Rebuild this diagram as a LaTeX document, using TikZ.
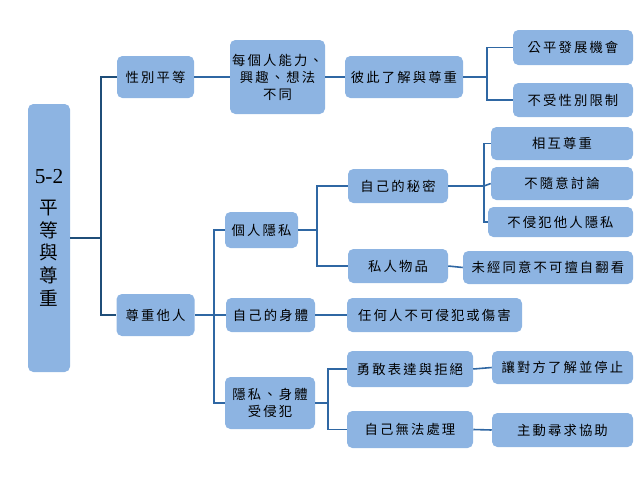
\documentclass[tikz,border=0pt]{standalone}
\usepackage{fontspec}
\setmainfont{Liberation Serif}
\newfontfamily\cjk[LetterSpace=16]{Noto Sans CJK TC}
\newfontfamily\cjkroot{Noto Sans CJK TC}
\definecolor{boxfill}{HTML}{8DB4E2}
\definecolor{lineA}{HTML}{1F4E79}
\definecolor{lineB}{HTML}{2F67A3}
\tikzset{
  bx/.style={draw=none, fill=boxfill, rounded corners=4pt, align=center, inner sep=0pt,
    font=\cjk\fontsize{10}{12.75}\selectfont, text=black},
  lnA/.style={draw=lineA, line width=1.5pt},
  lnB/.style={draw=lineB, line width=1.2pt},
}
\newcommand{\bxat}[6]{%
  \node[bx, minimum width=#4*0.75pt, minimum height=#5*0.75pt] (#1) at (#2,#3) {#6};}
\begin{document}
\begin{tikzpicture}[x=0.75pt,y=-0.75pt]
\useasboundingbox (0,0) rectangle (640,480);
% root
\node[bx, minimum width=42*0.75pt, minimum height=268*0.75pt, font=\cjkroot\fontsize{14}{17}\selectfont] (root) at (49,238)
  {{\rmfamily\fontsize{16}{17}\selectfont 5-2}\\[6pt]平\\等\\與\\尊\\重};
\bxat{a}{155.5}{77}{77}{42}{性別平等}
\bxat{b}{277.5}{77}{95}{74}{每個人能力、\\興趣、想法\\不同}
\bxat{c}{404}{77}{118}{42}{彼此了解與尊重}
\bxat{d}{573}{47.5}{120}{35}{公平發展機會}
\bxat{e}{573}{100}{120}{34}{不受性別限制}
\bxat{f}{155.5}{315}{78}{42}{尊重他人}
\bxat{g}{261.5}{230}{73}{36}{個人隱私}
\bxat{h}{398}{186}{100}{34}{自己的秘密}
\bxat{i}{398}{266}{100}{34}{私人物品}
\bxat{j}{562}{143.5}{142}{33}{相互尊重}
\bxat{k}{562}{183.5}{142}{33}{不隨意討論}
\bxat{l}{560.5}{222}{145}{30}{不侵犯他人隱私}
\bxat{m}{548}{267.5}{170}{33}{未經同意不可擅自翻看}
\bxat{n}{270.5}{315}{89}{34}{自己的身體}
\bxat{o}{434.5}{315}{175}{34}{任何人不可侵犯或傷害}
\bxat{p}{270}{403}{90}{52}{隱私、身體\\受侵犯}
\bxat{q}{410}{369}{126}{36}{勇敢表達與拒絕}
\bxat{r}{410}{429.5}{126}{37}{自己無法處理}
\bxat{s}{562.5}{367.5}{141}{33}{讓對方了解並停止}
\bxat{t}{562.5}{430}{141}{34}{主動尋求協助}
% junctions
\coordinate (j1) at (101,238);
\coordinate (jc) at (487,77);
\coordinate (jf) at (214,315);
\coordinate (jg) at (317,230);
\coordinate (jh) at (484,186);
\coordinate (jp) at (328,403);
% connectors
\draw[lnA] (root.east) -- (j1);
\draw[lnA] (a.west) -| (j1) |- (f.west);
\draw[lnB] (a.east) -- (b.west);
\draw[lnB] (b.east) -- (c.west);
\draw[lnB] (c.east) -- (jc);
\draw[lnB] (d.west) -| (jc) |- (e.west);
\draw[lnB] (f.east) -- (jf);
\draw[lnB] (g.west) -| (jf) |- (p.west);
\draw[lnB] (jf) -- (n.west);
\draw[lnB] (g.east) -- (jg);
\draw[lnB] (h.west) -| (jg) |- (i.west);
\draw[lnB] (h.east) -- (jh);
\draw[lnB] (j.west) -| (jh) |- (l.west);
\draw[lnB] (jh) -- (k.west);
\draw[lnB] (i.east) -- (m.west);
\draw[lnB] (n.east) -- (o.west);
\draw[lnB] (p.east) -- (jp);
\draw[lnB] (q.west) -| (jp) |- (r.west);
\draw[lnB] (q.east) -- (s.west);
\draw[lnB] (r.east) -- (t.west);
\end{tikzpicture}
\end{document}
